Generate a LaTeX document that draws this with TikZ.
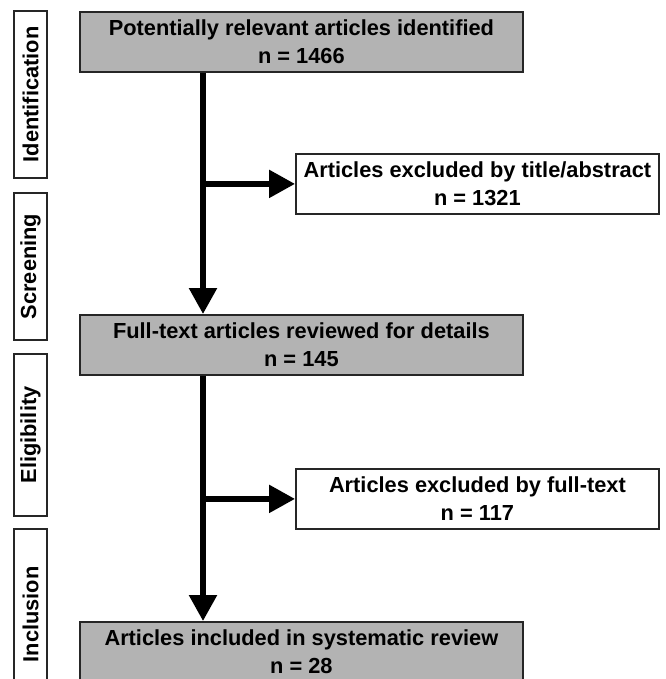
\documentclass[tikz,border=0pt]{standalone}
\usepackage{fontspec}
\setmainfont{Liberation Sans}
\usetikzlibrary{arrows.meta}
\definecolor{box gray}{RGB}{179,179,179}
\definecolor{edge gray}{RGB}{38,38,38}

\begin{document}
\begin{tikzpicture}[x=1pt, y=-1pt, font=\bfseries\fontsize{21.8}{28}\selectfont,
    stage/.style={draw=edge gray, line width=1.8pt, fill=box gray, align=center, anchor=north west, inner sep=0pt, minimum width=443pt, minimum height=60pt},
    excl/.style={stage, fill=white, minimum width=363pt},
    phase/.style={draw=edge gray, line width=1.8pt, fill=white, rotate=90, inner sep=0pt, minimum height=33pt},
    flow/.style={line width=5.5pt, -{Triangle[length=26pt, width=27pt]}}]
        \useasboundingbox (0,0) rectangle (665,679);
        \clip (0,0) rectangle (665,679);
        % phases on the left
        \node[phase, minimum width=167pt] (idf) at (30.5,94.5) {Identification};
        \node[phase, minimum width=147pt] (scr) at (30.5,266.5) {Screening};
        \node[phase, minimum width=162pt] (elg) at (30.5,435) {Eligibility};
        \node[phase, minimum width=171pt] (inc) at (30.5,614.5) {Inclusion};
        % flow boxes
        \node[stage] (ident) at (79,11) {Potentially relevant articles identified\\n = 1466};
        \node[excl] (exc1) at (295,153) {Articles excluded by title/abstract\\n = 1321};
        \node[stage] (full) at (79,314) {Full-text articles reviewed for details\\n = 145};
        \node[excl] (exc2) at (295,468) {Articles excluded by full-text\\n = 117};
        \node[stage] (incl) at (79,621) {Articles included in systematic review\\n = 28};
        % arrows
        \coordinate (spine) at (203,0);
        \draw[flow] (spine |- ident.south) -- (spine |- full.north);
        \draw[flow] (spine |- exc1.west) -- (exc1.west);
        \draw[flow] (spine |- full.south) -- (spine |- incl.north);
        \draw[flow] (spine |- exc2.west) -- (exc2.west);
      \end{tikzpicture}
\end{document}
